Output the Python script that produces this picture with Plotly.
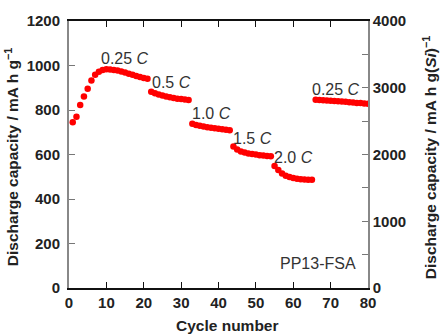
import plotly.graph_objects as go

# ---- data ----
cycles_025a = list(range(1, 22))
cap_025a = [745, 770, 822, 861, 895, 933, 958, 972, 980, 983, 982, 980, 977, 973,
            968, 963, 958, 953, 948, 944, 940]
cycles_05 = list(range(22, 33))
cap_05 = [882, 875, 870, 865, 861, 857, 854, 851, 849, 847, 845]
cycles_10 = list(range(33, 44))
cap_10 = [738, 733, 729, 726, 723, 720, 718, 716, 713, 711, 709]
cycles_15 = list(range(44, 55))
cap_15 = [636, 622, 614, 609, 605, 602, 600, 597, 595, 593, 592]
cycles_20 = list(range(55, 66))
cap_20 = [548, 530, 515, 505, 499, 494, 491, 489, 488, 487, 486]
cycles_025b = list(range(66, 81))
cap_025b = [846, 845, 844, 843, 842, 840, 839, 838, 837, 835, 834, 832, 831, 829, 828]

rate_labels = ["0.25 <i>C</i>", "0.5 <i>C</i>", "1.0 <i>C</i>", "1.5 <i>C</i>", "2.0 <i>C</i>", "0.25 <i>C</i>"]
rate_label_x = [15, 27.5, 38, 49, 60, 71.5]
rate_label_y = [1030, 925, 785, 672, 585, 890]

x_ticks = [0, 10, 20, 30, 40, 50, 60, 70, 80]
y_left_ticks = [0, 200, 400, 600, 800, 1000, 1200]
y_right_ticks = [0, 1000, 2000, 3000, 4000]

all_x = cycles_025a + cycles_05 + cycles_10 + cycles_15 + cycles_20 + cycles_025b
all_y = cap_025a + cap_05 + cap_10 + cap_15 + cap_20 + cap_025b

fig = go.Figure()
fig.add_trace(go.Scatter(
    x=all_x, y=all_y, mode="markers",
    marker=dict(color="#ff0000", size=6.5, line=dict(width=0)),
    showlegend=False, hoverinfo="skip"))

tickfont = dict(family="Liberation Sans, Arial, sans-serif", size=15, color="#222", weight="bold")

fig.update_layout(
    width=441, height=335,
    margin=dict(l=69, r=73, t=15, b=47),
    paper_bgcolor="white", plot_bgcolor="white",
    showlegend=False,
    xaxis=dict(range=[0, 80], tickvals=x_ticks, ticks="inside", ticklen=6,
               tickcolor="#111", showline=True, linecolor="#111", linewidth=1.5,
               mirror="ticks", showgrid=False, zeroline=False, tickfont=tickfont),
    yaxis=dict(range=[0, 1200], tickvals=y_left_ticks, ticks="inside", ticklen=6,
               tickcolor="#777", showline=True, linecolor="#888", linewidth=2,
               showgrid=False, zeroline=False, tickfont=tickfont, ticklabelstandoff=4),
    yaxis2=dict(range=[0, 4000], tickvals=y_right_ticks, ticks="inside", ticklen=6,
                tickcolor="#777", showline=True, linecolor="#888", linewidth=1.5,
                overlaying="y", side="right", showgrid=False, zeroline=False,
                tickfont=tickfont, minor=dict(dtick=500, ticks="inside", ticklen=6, tickcolor="#777")),
)
fig.add_trace(go.Scatter(x=[None], y=[None], yaxis="y2", showlegend=False, hoverinfo="skip"))

annfont = dict(family="Liberation Sans, Arial, sans-serif", size=16, color="#333")
for t, xx, yy in zip(rate_labels, rate_label_x, rate_label_y):
    fig.add_annotation(x=xx, y=yy, text=t, showarrow=False, font=annfont,
                       xanchor="center", yanchor="middle")
fig.add_annotation(x=66.5, y=112, text="PP13-FSA", showarrow=False, font=annfont,
                   xanchor="center", yanchor="middle")

titlefont = dict(family="Liberation Sans, Arial, sans-serif", size=15.5, color="#222", weight="bold")
fig.add_annotation(xref="paper", yref="paper", x=0, y=0.49, xshift=-57,
                   text="Discharge capacity / mA h g<sup>\u22121</sup>", textangle=-90,
                   showarrow=False, font=titlefont, xanchor="center", yanchor="middle")
fig.add_annotation(xref="paper", yref="paper", x=1, y=0.49, xshift=62,
                   text="Discharge capacity / mA h g(<i>Si</i>)<sup>\u22121</sup>", textangle=-90,
                   showarrow=False, font=titlefont, xanchor="center", yanchor="middle")
fig.add_annotation(xref="paper", yref="paper", x=0.5, y=0, xshift=9, yshift=-37,
                   text="Cycle number", showarrow=False, font=titlefont,
                   xanchor="center", yanchor="middle")

fig.write_html("out.html")
